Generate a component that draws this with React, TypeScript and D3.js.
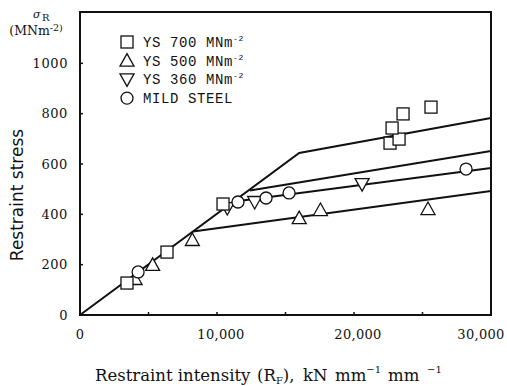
import React from 'react';
import * as d3 from 'd3';

// restraint intensity (kN mm-1 mm-1) vs restraint stress (MNm-2)
const ys700 = [[3430, 127], [6350, 250], [10440, 441], [22630, 683], [23290, 699], [22780, 743], [23580, 799], [25620, 826]];
const ys500 = [[4020, 143], [5300, 199], [8200, 298], [16000, 385], [17550, 417], [25400, 421]];
const ys360 = [[10750, 425], [12750, 449], [20590, 520]];
const mild = [[4240, 171], [11530, 449], [13580, 465], [15260, 485], [28180, 580]];

// fitted lines
const lineMain = [[0, 0], [16000, 644], [30000, 783]];
const line360 = [[12400, 495], [30000, 652]];
const lineMild = [[11170, 450], [30000, 584]];
const line500 = [[8250, 332], [30000, 493]];

const xTicks = [0, 10000, 20000, 30000];
const xMinor = [5000, 15000, 25000];
const yTicks = [0, 200, 400, 600, 800, 1000];

const legendItems = [
  { shape: 'square', label: 'YS 700 MNm', sup: '-2' },
  { shape: 'up', label: 'YS 500 MNm', sup: '-2' },
  { shape: 'down', label: 'YS 360 MNm', sup: '-2' },
  { shape: 'circle', label: 'MILD STEEL', sup: '' },
];

const Marker = ({ shape, cx, cy }: { shape: string; cx: number; cy: number }) => {
  const st = { fill: '#fff', stroke: '#111', strokeWidth: 1.3 };
  if (shape === 'square') return <rect x={cx - 6} y={cy - 6} width={12} height={12} {...st} />;
  if (shape === 'circle') return <circle cx={cx} cy={cy} r={6} {...st} />;
  if (shape === 'up') return <path d={`M${cx - 7},${cy + 5.5}L${cx + 7},${cy + 5.5}L${cx},${cy - 7}Z`} {...st} />;
  return <path d={`M${cx - 7},${cy - 5.5}L${cx + 7},${cy - 5.5}L${cx},${cy + 7}Z`} {...st} />;
};

export default function App() {
  const x = d3.scaleLinear().domain([0, 30000]).range([80, 491]);
  const y = d3.scaleLinear().domain([0, 1200]).range([315, 13]);
  const line = d3.line<number[]>().x(d => x(d[0])).y(d => y(d[1]));
  const fmt = d3.format(',');
  const serif = 'DejaVu Serif';

  return (
    <svg width={507} height={386} style={{ position: 'absolute', left: 0, top: 0, background: '#fff' }}>
      <rect x={80} y={12} width={411} height={303} fill="none" stroke="#111" strokeWidth={2} />
      {xMinor.concat(xTicks).map(t => (
        <line key={t} x1={x(t)} x2={x(t)} y1={315} y2={312} stroke="#111" strokeWidth={1.5} />
      ))}
      {yTicks.map(t => (
        <line key={t} x1={80} x2={83} y1={y(t)} y2={y(t)} stroke="#111" strokeWidth={1.5} />
      ))}

      {[lineMain, line360, lineMild, line500].map((l, i) => (
        <path key={i} d={line(l) || ''} fill="none" stroke="#111" strokeWidth={2} />
      ))}

      {ys500.map((d, i) => <Marker key={'u' + i} shape="up" cx={x(d[0])} cy={y(d[1])} />)}
      {ys360.map((d, i) => <Marker key={'d' + i} shape="down" cx={x(d[0])} cy={y(d[1])} />)}
      {mild.map((d, i) => <Marker key={'c' + i} shape="circle" cx={x(d[0])} cy={y(d[1])} />)}
      {ys700.map((d, i) => <Marker key={'s' + i} shape="square" cx={x(d[0])} cy={y(d[1])} />)}

      {yTicks.map(t => (
        <text key={t} x={68} y={y(t) + 4.5} textAnchor="end" fontFamily={serif} fontSize={13} letterSpacing={0.6} fill="#111">
          {t}
        </text>
      ))}
      {xTicks.map((t, i) => (
        <text key={t} x={x(t) + (i === 0 ? 0 : i === 3 ? -10 : 4)} y={339} textAnchor="middle" fontFamily={serif} fontSize={13} letterSpacing={0.3} fill="#111">
          {fmt(t)}
        </text>
      ))}

      <text x={33} y={18} fontFamily={serif} fontSize={11} fontStyle="italic" fill="#111">σ</text>
      <text x={42} y={21} fontFamily={serif} fontSize={10} fill="#111">R</text>
      <text x={36} y={35} textAnchor="middle" fontFamily={serif} fontSize={12.5} fill="#111">
        (MNm<tspan dy={-4} fontSize={9.5}>-2)</tspan>
      </text>

      <text transform="translate(23,195) rotate(-90)" textAnchor="middle" fontFamily="DejaVu Sans" fontSize={17} fill="#111">
        Restraint stress
      </text>
      <g fontFamily={serif} fontSize={16.5} fill="#111">
        <text x={95} y={381}>Restraint intensity</text>
        <text x={257} y={381}>(R<tspan dy={3} fontSize={10}>F</tspan><tspan dy={-3}>),</tspan></text>
        <text x={303} y={381}>kN</text>
        <text x={335} y={381}>mm<tspan dy={-8} fontSize={10}>−1</tspan></text>
        <text x={388} y={381}>mm</text>
        <text x={427} y={373} fontSize={10}>−1</text>
      </g>

      {legendItems.map((it, i) => (
        <g key={it.label} transform={`translate(0,${42 + i * 18.7})`}>
          <Marker shape={it.shape} cx={127} cy={0} />
          <text x={143} y={5} fontFamily="Liberation Mono" fontSize={14} letterSpacing={0.6} fill="#111">
            {it.label}
            {it.sup && <tspan dy={-6} fontSize={8}>{it.sup}</tspan>}
          </text>
        </g>
      ))}
    </svg>
  );
}
